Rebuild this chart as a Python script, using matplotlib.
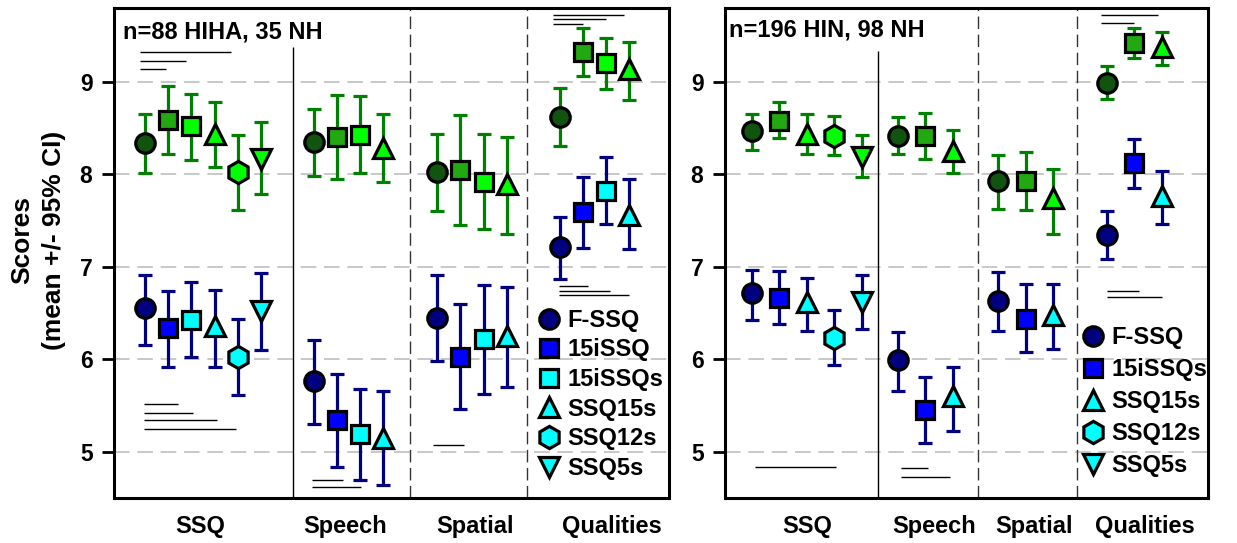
import matplotlib
matplotlib.use("Agg")
import matplotlib.pyplot as plt
from matplotlib.lines import Line2D

plt.rcParams['font.family'] = ['Liberation Sans', 'DejaVu Sans']
plt.rcParams['font.weight'] = 'bold'

# --- Data: left panel (n=88 HIHA = blue, 35 NH = green) ---
groups = ["SSQ", "Speech", "Spatial", "Qualities"]
left_measures = ["F-SSQ", "15iSSQ", "15iSSQs", "SSQ15s", "SSQ12s", "SSQ5s"]
left_members = [[0, 1, 2, 3, 4, 5], [0, 1, 2, 3], [0, 1, 2, 3], [0, 1, 2, 3]]

left_hi_mean = [[6.55, 6.34, 6.43, 6.36, 6.02, 6.52], [5.77, 5.34, 5.19, 5.15],
                [6.45, 6.03, 6.22, 6.25], [7.22, 7.59, 7.82, 7.56]]
left_hi_low = [[6.16, 5.92, 6.02, 5.92, 5.61, 6.10], [5.30, 4.84, 4.69, 4.64],
               [5.98, 5.46, 5.63, 5.70], [6.87, 7.20, 7.46, 7.19]]
left_hi_high = [[6.91, 6.74, 6.84, 6.75, 6.44, 6.93], [6.21, 5.84, 5.68, 5.66],
                [6.91, 6.60, 6.80, 6.78], [7.54, 7.97, 8.19, 7.95]]

left_nh_mean = [[8.34, 8.59, 8.52, 8.44, 8.03, 8.17], [8.35, 8.41, 8.43, 8.29],
                [8.03, 8.05, 7.92, 7.90], [8.62, 9.32, 9.20, 9.14]]
left_nh_low = [[8.02, 8.22, 8.16, 8.08, 7.61, 7.79], [7.98, 7.95, 8.02, 7.92],
               [7.60, 7.45, 7.41, 7.36], [8.31, 9.06, 8.92, 8.81]]
left_nh_high = [[8.65, 8.96, 8.87, 8.78, 8.43, 8.57], [8.71, 8.86, 8.85, 8.65],
                [8.44, 8.64, 8.44, 8.41], [8.93, 9.58, 9.48, 9.43]]

# significance bars (from, to, level)
left_sig_from = [0.78, 0.78, 0.78, 0.97, 0.97, 0.97, 0.97, 8.19, 8.19, 13.43,
                 18.59, 18.59, 18.59, 18.84, 18.84, 18.84]
left_sig_to = [4.71, 2.77, 1.91, 2.44, 3.08, 4.12, 4.91, 9.55, 10.3, 14.76,
               21.65, 20.87, 19.88, 20.09, 21.04, 21.85]
left_sig_y = [9.32, 9.23, 9.14, 5.52, 5.42, 5.34, 5.25, 4.69, 4.62, 5.07,
              9.72, 9.68, 9.63, 6.79, 6.74, 6.70]

# --- Data: right panel (n=196 HIN = blue, 98 NH = green) ---
right_measures = ["F-SSQ", "15iSSQs", "SSQ15s", "SSQ12s", "SSQ5s"]
right_members = [[0, 1, 2, 3, 4], [0, 1, 2], [0, 1, 2], [0, 1, 2]]

right_hi_mean = [[6.72, 6.66, 6.62, 6.23, 6.62], [5.99, 5.45, 5.60],
                 [6.63, 6.44, 6.48], [7.35, 8.12, 7.77]]
right_hi_low = [[6.43, 6.38, 6.31, 5.94, 6.33], [5.66, 5.09, 5.23],
                [6.31, 6.08, 6.11], [7.08, 7.85, 7.46]]
right_hi_high = [[6.97, 6.96, 6.88, 6.53, 6.91], [6.30, 5.81, 5.92],
                 [6.94, 6.81, 6.81], [7.60, 8.38, 8.04]]

right_nh_mean = [[8.47, 8.58, 8.44, 8.42, 8.19], [8.42, 8.42, 8.25],
                 [7.93, 7.93, 7.74], [8.99, 9.42, 9.38]]
right_nh_low = [[8.26, 8.39, 8.22, 8.21, 7.97], [8.22, 8.17, 8.01],
                [7.63, 7.62, 7.36], [8.82, 9.26, 9.18]]
right_nh_high = [[8.65, 8.78, 8.65, 8.63, 8.43], [8.62, 8.66, 8.48],
                 [8.21, 8.24, 8.06], [9.17, 9.58, 9.54]]

right_sig_from = [1.11, 6.41, 6.41, 13.91, 13.91, 13.69, 13.69]
right_sig_to = [4.05, 7.39, 8.2, 15.07, 15.9, 15.76, 14.89]
right_sig_y = [4.84, 4.82, 4.73, 6.74, 6.67, 9.72, 9.64]

# --- Styles ---
left_markers = ['o', 's', 's', '^', 'h', 'v']
left_hi_fill = ['#000080', '#0000ff', '#00ffff', '#00ffff', '#00ffff', '#00ffff']
left_nh_fill = ['#105410', '#22a810', '#00ff00', '#00ff00', '#00ff00', '#00ff00']
right_markers = ['o', 's', '^', 'h', 'v']
right_hi_fill = ['#000080', '#0000ff', '#00ffff', '#00ffff', '#00ffff']
right_nh_fill = ['#105410', '#22a810', '#00ff00', '#00ff00', '#00ff00']
MS = {'o': 14, 's': 13.5, '^': 14, 'v': 14, 'h': 16}

HI_BAR = '#000080'
NH_BAR = '#008000'


def draw_panel(ax, starts, members, markers, hi_fill, nh_fill,
               hi_m, hi_lo, hi_hi, nh_m, nh_lo, nh_hi):
    for g, idxs in enumerate(members):
        for k, m in enumerate(idxs):
            x = starts[g] + k
            for mean, lo, hi, fill, bar in [
                    (nh_m[g][k], nh_lo[g][k], nh_hi[g][k], nh_fill[m], NH_BAR),
                    (hi_m[g][k], hi_lo[g][k], hi_hi[g][k], hi_fill[m], HI_BAR)]:
                ax.errorbar(x, mean, yerr=[[mean - lo], [hi - mean]],
                            fmt=markers[m], ms=MS[markers[m]], mfc=fill,
                            mec='black', mew=2.3, ecolor=bar, elinewidth=2.3,
                            capsize=5, capthick=2.3, zorder=4)


def style_axes(ax, xlim, solid_x, solid_top, dashed_x, label_x):
    ax.set_xlim(*xlim)
    ax.set_ylim(4.5, 9.8)
    ax.set_yticks([5, 6, 7, 8, 9])
    ax.yaxis.grid(True, color='#c8c8c8', ls=(0, (8, 4)), lw=1.4)
    ax.set_axisbelow(True)
    ax.vlines(solid_x, 4.5, solid_top, color='black', lw=1, zorder=2)
    for x in dashed_x:
        ax.axvline(x, color='#333333', lw=1, ls=(0, (9, 4)), zorder=2)
    for s in ax.spines.values():
        s.set_linewidth(2.2)
    ax.tick_params(axis='y', direction='out', length=8.5, width=2,
                   labelsize=16.5, pad=7)
    ax.set_xticks(label_x)
    ax.set_xticklabels(groups)
    ax.tick_params(axis='x', length=0, labelsize=17, pad=12)


def legend_handles(markers, fills):
    return [Line2D([], [], ls='none', marker=m, ms=MS[m], mfc=f,
                   mec='black', mew=2.3) for m, f in zip(markers, fills)]


fig = plt.figure(figsize=(12.37, 5.43), dpi=100)
axl = fig.add_axes([114 / 1237, 45 / 543, 555 / 1237, 490 / 543])
axr = fig.add_axes([725 / 1237, 45 / 543, 483 / 1237, 490 / 543])

# left panel
draw_panel(axl, [1, 8.27, 13.6, 18.88], left_members, left_markers,
           left_hi_fill, left_nh_fill, left_hi_mean, left_hi_low, left_hi_high,
           left_nh_mean, left_nh_low, left_nh_high)
style_axes(axl, (-0.34, 23.59), 7.38, 9.38, [12.42, 17.47],
           [3.37, 9.62, 15.22, 21.13])
axl.hlines(left_sig_y, left_sig_from, left_sig_to, color='black', lw=1, zorder=3)
axl.text(0.016, 0.937, "n=88 HIHA, 35 NH", transform=axl.transAxes,
         fontsize=17, va='baseline', ha='left')
axl.legend(legend_handles(left_markers, left_hi_fill), left_measures,
           loc='upper left', bbox_to_anchor=(0.762, 0.386),
           frameon=False, fontsize=17, handlelength=1.0, handletextpad=0.3,
           labelspacing=0.28, borderpad=0, borderaxespad=0)

# right panel
draw_panel(axr, [1, 6.3, 9.95, 13.9], right_members, right_markers,
           right_hi_fill, right_nh_fill, right_hi_mean, right_hi_low, right_hi_high,
           right_nh_mean, right_nh_low, right_nh_high)
style_axes(axr, (0.02, 17.58), 5.6, 9.34, [9.2, 12.8],
           [3.0, 7.62, 11.25, 15.29])
axr.hlines(right_sig_y, right_sig_from, right_sig_to, color='black', lw=1, zorder=3)
axr.text(0.008, 0.941, "n=196 HIN, 98 NH", transform=axr.transAxes,
         fontsize=17, va='baseline', ha='left')
axr.legend(legend_handles(right_markers, right_hi_fill), right_measures,
           loc='upper left', bbox_to_anchor=(0.737, 0.351),
           frameon=False, fontsize=17, handlelength=1.0, handletextpad=0.3,
           labelspacing=0.38, borderpad=0, borderaxespad=0)

fig.text(38 / 1237, 1 - 240 / 543, "Scores\n(mean +/- 95% CI)", rotation=90,
         ha='center', va='center', fontsize=19, linespacing=1.45)

fig.savefig("out.png", dpi=100)
